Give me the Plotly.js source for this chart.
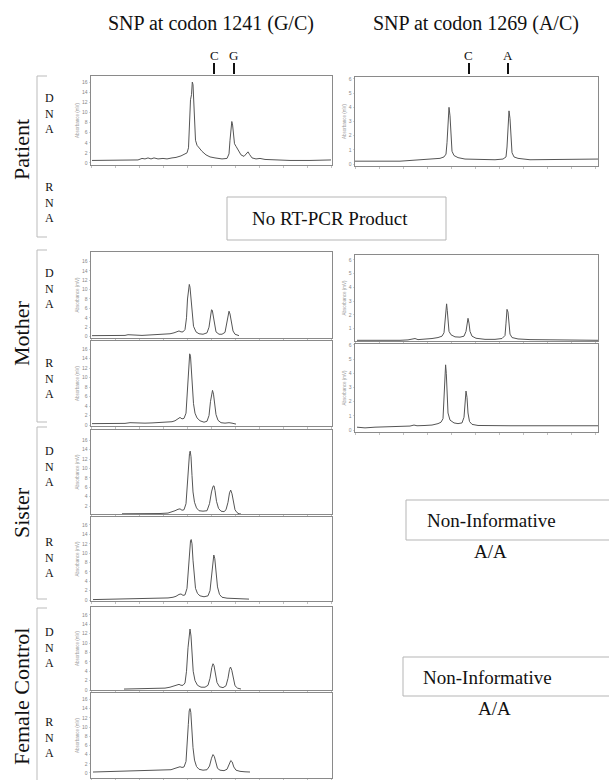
<!DOCTYPE html>
<html>
<head>
<meta charset="utf-8">
<script src="https://cdn.plot.ly/plotly-3.0.1.min.js"></script>
<style>html,body{margin:0;padding:0;background:#fff;}#chart{width:609px;height:780px;}</style>
</head>
<body>
<div id="chart"></div>
<script>
// ---------- DATA ----------
const leftTitle = "SNP at codon 1241 (G/C)";
const rightTitle = "SNP at codon 1269 (A/C)";
const leftAlleles = ["C", "G"];
const rightAlleles = ["C", "A"];
const rowLabels = ["Patient", "Mother", "Sister", "Female Control"];
const leftTicks = [0, 2, 4, 6, 8, 10, 12, 14, 16];
const rightTicks = [0, 1, 2, 3, 4, 5, 6];

// Patient DNA, codon 1241
const patDnaL_x = [1,19,39,47,51,54,57,60,63,67,72,76,81,85,90,94,96,97.5,98.5,99.5,100.5,101.3,102,102.8,103.5,104.5,106,108,111,115,119,124,131,136,138,139,140,140.8,141.6,142.5,143.5,145,147,150,153,155.5,157,158.5,161,165,169,174,184,199,219,229,240];
const patDnaL_y = [0.5,0.5,0.5,0.6,0.9,0.8,1.0,0.8,1.0,0.8,0.9,0.8,1.0,1.1,1.4,1.7,2.0,3.0,9,12.5,13.5,16.0,15.5,12,7,4.5,3.5,3.0,2.3,1.6,1.2,1.0,0.8,0.9,1.8,4.5,7.5,8.2,7.5,5,3.8,3.3,2.6,1.6,1.3,1.8,2.2,1.7,1.0,0.8,0.9,0.7,0.6,0.5,0.5,0.6,0.6];
// Patient DNA, codon 1269
const patDnaR_x = [0,15,35,45,55,65,75,85,89,91,92,93,94,95,96,97,99,103,110,125,140,148,151,152,153,154,155,156,157,159,163,175,205,225,243];
const patDnaR_y = [0.2,0.2,0.15,0.2,0.25,0.3,0.35,0.4,0.5,0.7,1.5,3.2,4.0,3.4,1.6,0.9,0.6,0.45,0.35,0.3,0.3,0.35,0.5,1.2,3.0,3.75,3.2,1.5,0.8,0.5,0.4,0.3,0.3,0.3,0.35];
// Mother DNA / RNA, codon 1241
const momDnaL_x = [1,19,34,37,40,43,46,51,59,67,74,79,83,86,88,90,92,94,95.5,96.5,97.5,98.3,99,100,101,102.5,105,108,112,116,118,119.5,120.5,121.3,122.3,123.5,125,128,131,134,135.5,137,138,139,140.5,142,144,146,148];
const momDnaL_y = [0.2,0.2,0.25,0.4,0.35,0.45,0.3,0.25,0.35,0.4,0.45,0.6,0.8,1.1,1.2,1.0,1.0,1.5,4,8,10.5,11.1,10.5,8,4.5,2.2,1.0,0.6,0.5,0.8,2,4.5,5.7,5.6,4.3,2.2,1.0,0.5,0.5,0.9,2.5,4.8,5.4,4.8,2.8,1.2,0.5,0.3,0.2];
const momRnaL_x = [1,19,34,39,44,49,54,61,67,72,77,81,84,87,89,91,93,95,96,97,98,98.7,99.5,100.3,101.3,102.5,104,106,109,113,116,118,119.5,120.5,121.5,122.5,123.5,125,127,130,134,138,141,145];
const momRnaL_y = [0.3,0.3,0.35,0.5,0.45,0.5,0.4,0.45,0.5,0.55,0.6,0.7,0.9,1.4,1.6,1.3,1.4,2.5,6,11,14,15.0,14.5,12,8,4.5,2.5,1.5,0.9,0.6,0.8,2.0,5,6.8,7.3,6.5,4.5,2.2,1.0,0.5,0.4,0.5,0.4,0.2];
// Mother DNA / RNA, codon 1269
const momDnaR_x = [2,15,25,35,45,53,57,60,63,70,77,83,87,89,90,91,91.6,92.3,93,94,96,100,105,109,111,112,113,114,115,117,121,130,140,147,150,151,152,153,154,155,157,163,175,195,215,243];
const momDnaR_y = [0.15,0.15,0.12,0.15,0.15,0.18,0.25,0.28,0.2,0.22,0.28,0.35,0.45,0.7,1.6,2.6,2.8,2.3,1.3,0.8,0.55,0.4,0.38,0.45,0.8,1.5,1.75,1.4,0.8,0.45,0.3,0.22,0.22,0.28,0.5,1.4,2.4,2.2,1.2,0.6,0.35,0.25,0.2,0.2,0.15,0.15];
const momRnaR_x = [2,10,20,35,45,55,59,62,70,77,83,86,88,89,90,90.6,91.3,92,93,95,99,103,107,109,110,111,112,113,114.5,117,123,135,155,175,205,243];
const momRnaR_y = [0.2,0.15,0.2,0.22,0.25,0.28,0.35,0.3,0.32,0.35,0.45,0.55,0.8,2.0,4.0,4.6,4.0,2.4,1.2,0.7,0.5,0.45,0.5,0.9,2.0,2.75,2.3,1.2,0.6,0.4,0.32,0.3,0.3,0.3,0.3,0.3];
// Sister DNA / RNA, codon 1241
const sisDnaL_x = [31,44,52,59,69,77,81,84,87,89,91,93,95,96.5,97.5,98.5,99.2,100,101,102,103.5,105.5,108,112,116,118.5,120.5,122,123,124,125.5,127.5,130,133,135,137,138.5,139.7,141,142.5,144,146,148,150];
const sisDnaL_y = [0.35,0.35,0.3,0.35,0.4,0.5,0.7,1.0,1.3,1.4,1.1,1.2,2.5,7,11,13.2,13.7,12.5,8.5,5,2.8,1.6,1.0,0.9,1.0,2.5,5,6.2,6.3,5.3,3,1.5,0.9,0.8,1.2,2.8,4.8,5.4,4.6,2.5,1.2,0.6,0.35,0.3];
const sisRnaL_x = [2,19,29,44,59,69,77,82,85,88,90,92,94,96,97.5,98.5,99.5,100.2,101,102,103.2,104.5,106.5,109,113,117,119,120.5,121.8,122.8,123.8,125,126.5,128.5,131,136,144,152,158];
const sisRnaL_y = [0.1,0.15,0.25,0.3,0.3,0.35,0.45,0.6,0.8,1.2,1.3,1.0,1.1,2.5,6.5,10.5,12.6,12.9,12,8.5,4.5,2.5,1.4,0.9,0.7,0.9,2,5,8.5,9.6,8.8,5.5,2.8,1.2,0.6,0.4,0.35,0.3,0.2];
// Female control DNA / RNA, codon 1241
const fcDnaL_x = [33,44,52,59,67,74,79,83,86,88,90,92,94,95.5,97,98,99,100,101,102.2,104,106.5,110,114,117,119,120.8,122,123,124.3,126,128.5,132,135,137,138.5,139.5,140.8,142.3,144,146.5,150];
const fcDnaL_y = [0.2,0.25,0.2,0.3,0.3,0.4,0.6,0.8,1.1,1.2,1.0,1.0,1.5,4,9,12.2,13.0,11.5,7.5,4,2,1.0,0.6,0.6,1.0,2.5,4.8,5.6,5.2,3.5,1.6,0.7,0.5,0.9,2.5,4.4,4.9,4.2,2.2,0.9,0.4,0.2];
const fcRnaL_x = [2,19,34,49,64,74,80,84,87,89,91,93,95,96.3,97.3,98.2,99,99.8,100.8,102,103.5,105.5,108,112,116,118.5,120.5,122,123.3,124.8,126.5,129,133,136,138,139.8,141.2,142.8,145,149,154,159];
const fcRnaL_y = [0.2,0.3,0.35,0.4,0.5,0.55,0.7,1.0,1.3,1.35,1.2,1.3,2.5,6,10.5,13.5,14.0,13.2,9.5,5.5,2.8,1.4,0.8,0.6,0.7,1.5,3.2,4.0,3.6,2.2,1.0,0.6,0.5,0.8,1.8,2.7,2.4,1.3,0.6,0.35,0.25,0.2];

// ---------- LAYOUT ----------
const W = 609, H = 780;
const X = p => p / W;
const Y = p => 1 - p / H;
const serif = "Liberation Serif, Times New Roman, serif";

const LX = [91, 332], RX = [355, 598];
const panels = [
  {xp: LX, yp: [76, 165],  yr: [-0.4, 17.2], xr: [0, 241], ticks: leftTicks,  xs: patDnaL_x, ys: patDnaL_y},
  {xp: RX, yp: [77, 166],  yr: [-0.14, 6.14], xr: [0, 243], ticks: rightTicks, xs: patDnaR_x, ys: patDnaR_y},
  {xp: LX, yp: [252, 338], yr: [-0.3, 18.0], xr: [0, 241], ticks: leftTicks,  xs: momDnaL_x, ys: momDnaL_y},
  {xp: LX, yp: [341, 426], yr: [-0.2, 17.7], xr: [0, 241], ticks: leftTicks,  xs: momRnaL_x, ys: momRnaL_y},
  {xp: RX, yp: [255, 341], yr: [0.1, 6.35],  xr: [0, 243], ticks: rightTicks, xs: momDnaR_x, ys: momDnaR_y},
  {xp: RX, yp: [344, 432], yr: [-0.14, 6.07], xr: [0, 243], ticks: rightTicks, xs: momRnaR_x, ys: momRnaR_y},
  {xp: LX, yp: [430, 514], yr: [0.3, 18.2],  xr: [0, 241], ticks: leftTicks,  xs: sisDnaL_x, ys: sisDnaL_y},
  {xp: LX, yp: [517, 601], yr: [-0.2, 17.7], xr: [0, 241], ticks: leftTicks,  xs: sisRnaL_x, ys: sisRnaL_y},
  {xp: LX, yp: [607, 690], yr: [0, 17.7],    xr: [0, 241], ticks: leftTicks,  xs: fcDnaL_x, ys: fcDnaL_y},
  {xp: LX, yp: [693, 778], yr: [-1.1, 17.4], xr: [0, 241], ticks: leftTicks,  xs: fcRnaL_x, ys: fcRnaL_y}
];

const data = [];
const layout = {
  width: W, height: H,
  margin: {l: 0, r: 0, t: 0, b: 0},
  paper_bgcolor: "#fff", plot_bgcolor: "#fff",
  showlegend: false,
  annotations: [], shapes: []
};

panels.forEach((p, i) => {
  const s = i === 0 ? "" : String(i + 1);
  data.push({
    x: p.xs, y: p.ys, type: "scatter", mode: "lines",
    xaxis: "x" + s, yaxis: "y" + s,
    line: {color: "#555", width: 1}, hoverinfo: "skip"
  });
  layout["xaxis" + s] = {
    domain: [X(p.xp[0]), X(p.xp[1])], range: p.xr, anchor: "y" + s,
    showline: true, mirror: true, linecolor: "#8a8a8a", linewidth: 1,
    ticks: "outside", ticklen: 2, tickcolor: "#999", tickwidth: 0.6, dtick: 24,
    showticklabels: false, showgrid: false, zeroline: false
  };
  layout["yaxis" + s] = {
    domain: [Y(p.yp[1]), Y(p.yp[0])], range: p.yr, anchor: "x" + s,
    showline: true, mirror: true, linecolor: "#8a8a8a", linewidth: 1,
    tickmode: "array", tickvals: p.ticks, ticktext: p.ticks.map(String),
    ticks: "outside", ticklen: 1.5, tickcolor: "#aaa", tickwidth: 0.5,
    tickfont: {size: 5, color: "#888", family: "Liberation Sans, Arial, sans-serif"},
    title: {text: "Absorbance (mV)", font: {size: 4.5, color: "#999", family: "Liberation Sans, Arial, sans-serif"}, standoff: 2},
    showgrid: false, zeroline: false
  };
});

function ann(text, px, py, size, opts) {
  layout.annotations.push(Object.assign({
    text: text, xref: "paper", yref: "paper", x: X(px), y: Y(py),
    xanchor: "center", yanchor: "middle", showarrow: false,
    font: {family: serif, size: size, color: "#111"}
  }, opts || {}));
}
function line(x0, y0, x1, y1, color, width) {
  layout.shapes.push({type: "line", xref: "paper", yref: "paper",
    x0: X(x0), y0: Y(y0), x1: X(x1), y1: Y(y1), line: {color: color, width: width}});
}
function rect(x0, y0, x1, y1) {
  layout.shapes.push({type: "rect", xref: "paper", yref: "paper",
    x0: X(x0), y0: Y(y0), x1: X(x1), y1: Y(y1), line: {color: "#b5b5b5", width: 1}, fillcolor: "rgba(0,0,0,0)"});
}

// titles
ann(leftTitle, 211, 23, 20);
ann(rightTitle, 476, 23, 20);
// allele markers
const leftAlleleX = [214, 234], rightAlleleX = [469, 508];
leftAlleles.forEach((a, k) => { ann(a, leftAlleleX[k], 56, 13); line(leftAlleleX[k], 63, leftAlleleX[k], 74, "#111", 2); });
rightAlleles.forEach((a, k) => { ann(a, rightAlleleX[k], 56, 13); line(rightAlleleX[k], 63, rightAlleleX[k], 74, "#111", 2); });

// row labels and brackets
const rowCenters = [150, 334, 513, 697];
const brackets = [[76, 237], [250, 422], [427, 599], [608, 782]];
rowLabels.forEach((r, k) => {
  ann(r, 21, rowCenters[k], 22, {textangle: -90});
  const b = brackets[k];
  line(47, b[0], 37, b[0], "#bbb", 1);
  line(37, b[0], 37, b[1], "#bbb", 1);
  line(37, b[1], 47, b[1], "#bbb", 1);
});

// DNA / RNA letters
const dnaRna = [["D<br>N<br>A", 113], ["R<br>N<br>A", 203],
  ["D<br>N<br>A", 288], ["R<br>N<br>A", 378],
  ["D<br>N<br>A", 466], ["R<br>N<br>A", 557],
  ["D<br>N<br>A", 647], ["R<br>N<br>A", 737]];
dnaRna.forEach(d => ann(d[0], 49, d[1], 12));

// text boxes
rect(227, 197, 446, 240);
ann("No RT-PCR Product", 330, 218.5, 19);
rect(406, 500, 615, 540);
ann("Non-Informative", 491, 520, 19);
ann("A/A", 490, 551, 19);
rect(403, 657, 615, 696);
ann("Non-Informative", 487, 677, 19);
ann("A/A", 494, 708, 19);

Plotly.newPlot("chart", data, layout, {staticPlot: true, displayModeBar: false});
</script>
</body>
</html>
